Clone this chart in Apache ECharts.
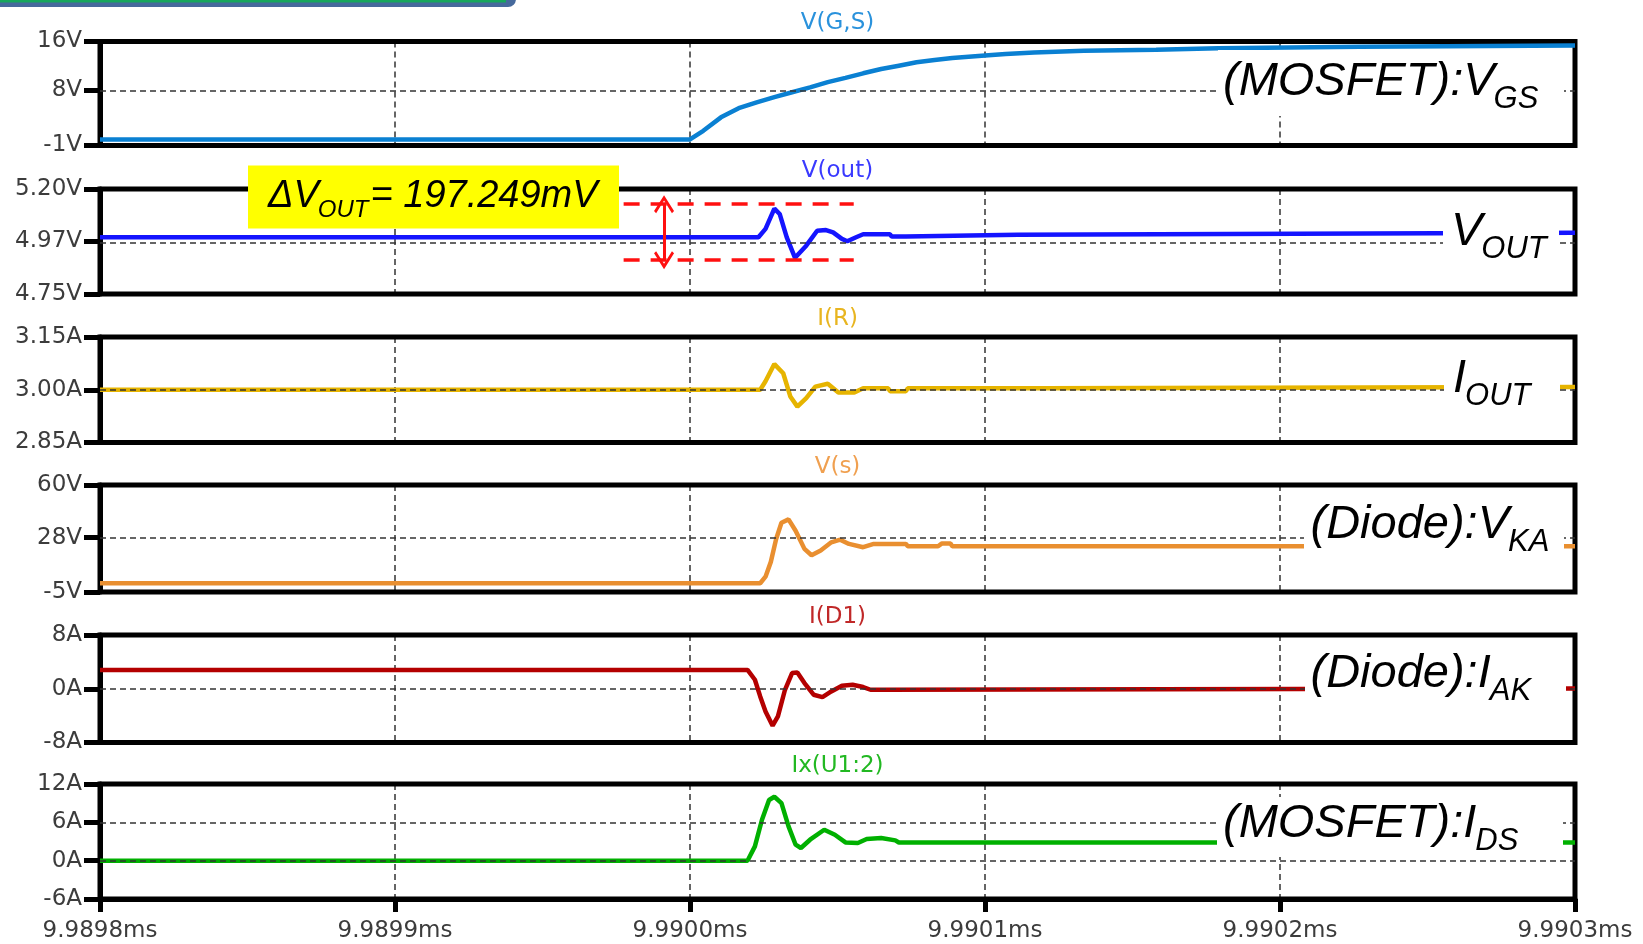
<!DOCTYPE html>
<html>
<head>
<meta charset="utf-8">
<script src="https://cdn.jsdelivr.net/npm/echarts@6/dist/echarts.min.js"></script>
<style>html,body{margin:0;padding:0;background:#fff}#c{width:1643px;height:944px}</style>
</head>
<body>
<div id="c"></div>
<script>
// ---- data (time in ns after 9.9898 ms) ----
const xTickValues = [0, 100, 200, 300, 400, 500];
const xTickLabels = ['9.9898ms', '9.9899ms', '9.9900ms', '9.9901ms', '9.9902ms', '9.9903ms'];

const panelTitles = ['V(G,S)', 'V(out)', 'I(R)', 'V(s)', 'I(D1)', 'Ix(U1:2)'];
const yMin = [-1, 4.75, 2.85, -5, -8, -6];
const yMax = [16, 5.20, 3.15, 60, 8, 12];
const yTicks = [[-1, 8, 16], [4.75, 4.975, 5.2], [2.85, 3, 3.15], [-5, 28, 60], [-8, 0, 8], [-6, 0, 6, 12]];
const yTickLabels = [['-1V', '8V', '16V'], ['4.75V', '4.97V', '5.20V'], ['2.85A', '3.00A', '3.15A'], ['-5V', '28V', '60V'], ['-8A', '0A', '8A'], ['-6A', '0A', '6A', '12A']];
const yGridValues = [[8], [4.975], [3], [28], [0], [0, 6]];

const vgsT = [0, 200, 204.5, 210.5, 216.5, 222.6, 228.6, 234.6, 240.7, 246.7, 252.7, 258.7, 264.8, 270.8, 276.8, 282.9, 288.9, 300, 307, 316.6, 333.5, 358, 358, 379, 379, 427, 427, 500];
const vgsV = [0, 0, 1.4, 3.6, 5.1, 6.05, 6.9, 7.7, 8.5, 9.35, 10.05, 10.8, 11.5, 12.05, 12.6, 12.97, 13.3, 13.7, 13.95, 14.2, 14.5, 14.65, 14.9, 14.9, 15.15, 15.15, 15.35, 15.35];

const voutT = [0, 223.2, 225.6, 228.6, 230.4, 232.8, 235.6, 239.4, 243.1, 246.1, 248.5, 251.5, 253.3, 256.3, 258.7, 267.8, 268.4, 273.2, 273.8, 311.2, 311.8, 500];
const voutV = [4.993, 4.993, 5.029, 5.116, 5.093, 4.993, 4.905, 4.957, 5.021, 5.024, 5.014, 4.986, 4.976, 4.993, 5.006, 5.006, 4.996, 4.996, 5.004, 5.004, 5.012, 5.012];

const irT = [0, 223.8, 225.6, 228.6, 231.6, 234, 236.4, 239.4, 242.5, 246.7, 250.3, 255.7, 258.7, 267.2, 267.8, 273.2, 273.8, 319.7, 320.3, 500];
const irV = [3.0, 3.0, 3.024, 3.073, 3.047, 2.981, 2.952, 2.976, 3.009, 3.017, 2.992, 2.992, 3.004, 3.004, 2.996, 2.996, 3.004, 3.004, 3.008, 3.008];

const vsT = [0, 223.8, 225.6, 227.4, 229.2, 231, 233.4, 235.8, 238.8, 241.2, 244.3, 247.9, 250.9, 253.9, 258.7, 262.3, 273.2, 273.8, 284.1, 285.3, 288.3, 288.9, 500];
const vsV = [0.3, 0.3, 4.3, 13.3, 27.2, 37.1, 39.1, 32.2, 21.2, 17.3, 20.2, 25.2, 26.8, 24.2, 22.2, 24.2, 24.2, 22.8, 22.8, 24.4, 24.4, 22.8, 22.8];

const idT = [0, 219.5, 222, 223.8, 225.6, 228, 229.8, 232.2, 234.6, 236.4, 238.8, 241.9, 244.9, 247.9, 251.5, 255.1, 258.7, 261.2, 265.4, 266, 500];
const idV = [2.8, 2.8, 1.34, -1.14, -3.37, -5.5, -4.1, -0.15, 2.33, 2.43, 0.84, -0.89, -1.24, -0.4, 0.45, 0.6, 0.25, -0.15, -0.15, 0.05, 0.05];

const ixT = [0, 219.5, 222, 224.4, 226.8, 228.6, 231, 233.4, 235.8, 237.6, 240.7, 245.5, 249.1, 252.7, 256.9, 259.9, 264.8, 269.6, 270.8, 500];
const ixV = [0, 0, 2.24, 6.4, 9.5, 10.0, 9.0, 5.36, 2.5, 1.98, 3.28, 4.84, 4.06, 2.86, 2.76, 3.39, 3.54, 3.18, 2.85, 2.85];

// delta-Vout annotation
const deltaLevels = [5.135, 4.895];
const deltaSpan = [177.5, 255.5];
const arrowT = 191.2;
const deltaText = ['ΔV', 'OUT', '= 197.249mV'];

const tagTexts = [['(MOSFET):V', 'GS'], ['V', 'OUT'], ['I', 'OUT'], ['(Diode):V', 'KA'], ['(Diode):I', 'AK'], ['(MOSFET):I', 'DS']];

// ---- styling / layout ----
const seriesColors = ['#0a80d2', '#1414ff', '#e6b400', '#e98f30', '#b40000', '#00b000'];
const titleColors = ['#2a92dc', '#3a3aff', '#e8b520', '#f0a050', '#c02828', '#22b822'];
const gridTop = [41.5, 189, 337, 485, 635, 784];
const gridBottom = [145.5, 294, 442.5, 592, 742.5, 899];
const L = 100, W = 1475;

const zip = (t, v) => t.map((x, i) => [x, v[i]]);
const seriesData = [zip(vgsT, vgsV), zip(voutT, voutV), zip(irT, irV), zip(vsT, vsV), zip(idT, idV), zip(ixT, ixV)];

const labelFont = 'DejaVu Sans';
const gridLineStyle = { type: [6, 4], color: '#333', width: 1.5 };

const grids = [], xAxes = [], yAxes = [], series = [];
for (let i = 0; i < 6; i++) {
  grids.push({ left: L, width: W, top: gridTop[i], height: gridBottom[i] - gridTop[i], show: true, borderColor: '#000', borderWidth: 5, z: 2 });
  const last = i === 5;
  xAxes.push({
    gridIndex: i, type: 'value', min: 0, max: 500, interval: 100,
    axisLine: { show: last, onZero: false, lineStyle: { color: '#000', width: 5 } },
    axisTick: { show: last, length: 13, lineStyle: { color: '#000', width: 5 } },
    axisLabel: { show: last, margin: 21, fontSize: 23, fontFamily: labelFont, color: '#3c3c3c',
      showMinLabel: true, showMaxLabel: true,
      formatter: v => { const k = xTickValues.findIndex(t => Math.abs(t - v) < 1e-6); return k >= 0 ? xTickLabels[k] : ''; } },
    splitLine: { show: true, lineStyle: gridLineStyle }
  });
  yAxes.push({
    gridIndex: i, type: 'value', min: yMin[i], max: yMax[i],
    axisLine: { show: true, lineStyle: { color: '#000', width: 5 } },
    axisTick: { show: true, customValues: yTicks[i], length: 16, lineStyle: { color: '#000', width: 5 } },
    axisLabel: { show: true, customValues: yTicks[i], margin: 18, fontSize: 23, fontFamily: labelFont, color: '#3c3c3c',
      formatter: v => { const k = yTicks[i].findIndex(t => Math.abs(t - v) < 1e-6); return k >= 0 ? yTickLabels[i][k] : ''; } },
    splitLine: { show: false }
  });
  series.push({
    type: 'line', xAxisIndex: i, yAxisIndex: i, data: [], z: 1, silent: true,
    markLine: { silent: true, symbol: 'none', label: { show: false }, lineStyle: gridLineStyle, animation: false,
      data: yGridValues[i].map(v => ({ yAxis: v })) }
  });
  const s = {
    type: 'line', xAxisIndex: i, yAxisIndex: i, data: seriesData[i], z: 3,
    showSymbol: false, symbol: 'none', lineStyle: { color: seriesColors[i], width: 4.5 }, itemStyle: { color: seriesColors[i] },
    animation: false
  };
  if (i === 1) {
    const chevron = 'path://M0,0 L12,15 L9.5,17 L0,5 L-9.5,17 L-12,15 Z';
    s.markLine = {
      silent: true, animation: false, label: { show: false },
      data: [
        [{ coord: [deltaSpan[0], deltaLevels[0]], symbol: 'none', lineStyle: { color: '#ff1010', width: 3.5, type: [16, 11] } }, { coord: [deltaSpan[1], deltaLevels[0]], symbol: 'none' }],
        [{ coord: [deltaSpan[0], deltaLevels[1]], symbol: 'none', lineStyle: { color: '#ff1010', width: 3.5, type: [16, 11] } }, { coord: [deltaSpan[1], deltaLevels[1]], symbol: 'none' }],
        [{ coord: [arrowT, deltaLevels[0]], symbol: chevron, symbolSize: [20, 18], lineStyle: { color: '#ff1010', width: 3, type: 'solid' } },
         { coord: [arrowT, deltaLevels[1]], symbol: chevron, symbolSize: [20, 18] }]
      ]
    };
  }
  series.push(s);
}

// ---- graphic annotations ----
const graphics = [];
graphics.push({ type: 'rect', shape: { x: -20, y: -20, width: 536, height: 27, r: 8 }, style: { fill: '#46699c' }, z: 20 });
graphics.push({ type: 'rect', shape: { x: 0, y: 0, width: 506, height: 2.5 }, style: { fill: '#17a65c' }, z: 21 });

for (let i = 0; i < 6; i++) {
  graphics.push({ type: 'text', x: L + W / 2, y: gridTop[i] - 18, z: 12,
    style: { text: panelTitles[i], align: 'center', verticalAlign: 'middle', fill: titleColors[i], fontSize: 23, fontFamily: labelFont } });
}

const mctx = document.createElement('canvas').getContext('2d');
function italicWidth(t, size) { mctx.font = 'italic ' + size + 'px "Liberation Sans"'; return mctx.measureText(t).width; }
// text piece placed by its alphabetic baseline (zrender draws with a 'middle' baseline)
function piece(t, x, base, size) {
  return { type: 'text', z: 11, x: x, y: base - 0.3465 * size,
    style: { text: t, align: 'left', verticalAlign: 'middle', fontSize: size, fontStyle: 'italic', fontFamily: 'Liberation Sans', fill: '#000' } };
}

const tagPos = [
  { x: 1223, base: 98.5, box: [1218, 50, 1564, 116] },
  { x: 1451, base: 248.5, box: [1443, 205, 1559, 266] },
  { x: 1453, base: 395, box: [1444, 352, 1560, 412] },
  { x: 1310.5, base: 541, box: [1304, 498, 1564, 560] },
  { x: 1310.5, base: 690, box: [1305, 647, 1566, 708] },
  { x: 1223, base: 840, box: [1217, 797, 1563, 857] }
];
const MAIN = 47, SUB = 31, SUBDROP = 12;
tagPos.forEach((p, i) => {
  graphics.push({ type: 'rect', z: 10, shape: { x: p.box[0], y: p.box[1], width: p.box[2] - p.box[0], height: p.box[3] - p.box[1] }, style: { fill: '#fff' } });
  graphics.push(piece(tagTexts[i][0], p.x, p.base, MAIN));
  graphics.push(piece(tagTexts[i][1], p.x + italicWidth(tagTexts[i][0], MAIN) - 1, p.base + SUBDROP, SUB));
});

// yellow delta box
graphics.push({ type: 'rect', z: 10, shape: { x: 248, y: 165.5, width: 371, height: 63 }, style: { fill: '#ffff00' } });
(function () {
  let x = 268; const base = 210;
  graphics.push(piece(deltaText[0], x, base, 38)); x += italicWidth(deltaText[0], 38) - 1;
  graphics.push(piece(deltaText[1], x, base + 8.5, 24)); x += italicWidth(deltaText[1], 24) + 2;
  graphics.push(piece(deltaText[2], x, base, 38));
})();

const chart = echarts.init(document.getElementById('c'), null, { renderer: 'canvas' });
chart.setOption({
  animation: false,
  backgroundColor: '#fff',
  grid: grids, xAxis: xAxes, yAxis: yAxes, series: series,
  graphic: { elements: graphics }
});
</script>
</body>
</html>
